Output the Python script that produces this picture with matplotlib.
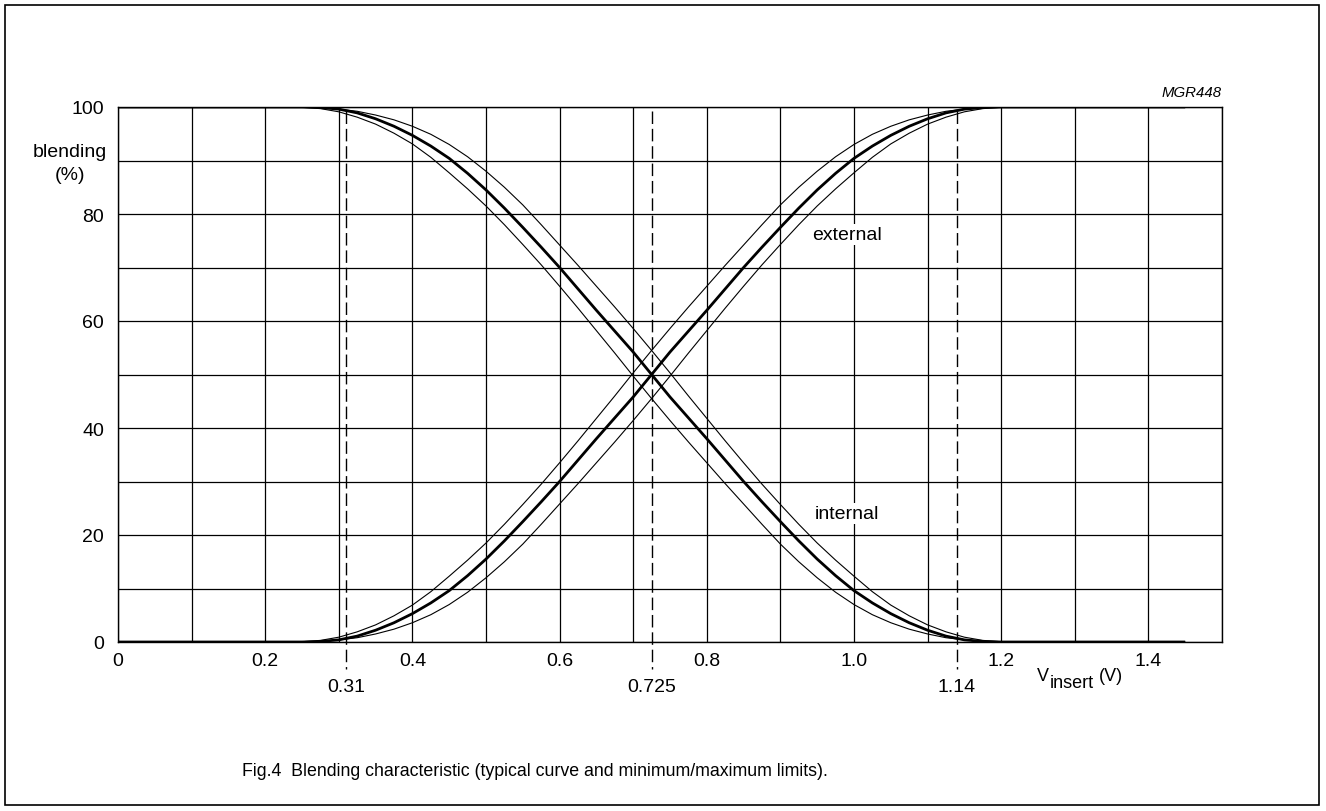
import numpy as np
import matplotlib
matplotlib.use("Agg")
import matplotlib.pyplot as plt
from matplotlib.patches import Rectangle

plt.rcParams['font.family'] = ['Liberation Sans', 'DejaVu Sans']

# V_insert (V): flat start, 0.225 .. 1.225 in 0.025 V steps, flat end
v = [0.0] + [round(0.225 + 0.025 * i, 3) for i in range(41)] + [1.45]

# blending (%) of the "external" curve
ext_typ = [0,
           0, 0, 0.1, 0.4, 1.1, 2.2, 3.6, 5.3, 7.3, 9.6,
           12.4, 15.5, 18.9, 22.5, 26.2, 30, 34, 38, 41.9, 45.8,
           50,
           54.2, 58.1, 62, 66, 70, 73.8, 77.5, 81.1, 84.5, 87.6,
           90.4, 92.7, 94.7, 96.4, 97.8, 98.9, 99.6, 99.9, 100, 100,
           100]
ext_max = [0,
           0, 0.05, 0.3, 0.9, 1.9, 3.2, 4.9, 6.9, 9.4, 12.3,
           15.3, 18.5, 22, 25.7, 29.5, 33.5, 37.6, 41.8, 46, 50.3,
           54.5,
           58.6, 62.6, 66.5, 70.4, 74.2, 78, 81.7, 85, 88, 90.7,
           93, 94.9, 96.4, 97.6, 98.5, 99.2, 99.6, 99.9, 100, 100,
           100]
ext_min = [0,
           0, 0, 0.1, 0.4, 0.8, 1.5, 2.4, 3.6, 5.1, 7,
           9.3, 12, 15, 18.3, 22, 25.8, 29.6, 33.5, 37.4, 41.4,
           45.5,
           49.7, 54, 58.2, 62.4, 66.5, 70.5, 74.3, 78, 81.5, 84.7,
           87.7, 90.6, 93.1, 95.1, 96.8, 98.1, 99.1, 99.7, 99.95, 100,
           100]

# internal curve is the complement of the external one
int_typ = [100 - e for e in ext_typ]
int_max = [100 - e for e in ext_min]
int_min = [100 - e for e in ext_max]

x_major = [0, 0.2, 0.4, 0.6, 0.8, 1.0, 1.2, 1.4]
x_major_lbl = ['0', '0.2', '0.4', '0.6', '0.8', '1.0', '1.2', '1.4']
marks = [0.31, 0.725, 1.14]
marks_lbl = ['0.31', '0.725', '1.14']
y_ticks = [0, 20, 40, 60, 80, 100]

W, H = 1326, 812
fig = plt.figure(figsize=(W / 100, H / 100), dpi=100)
ax = fig.add_axes([118/W, 1 - 643/H, (1222-118)/W, (643-108)/H])

ax.set_xlim(0, 1.5)
ax.set_ylim(0, 100)

FS = 14

# grid every 0.1 V / 10 %
ax.set_xticks(np.arange(0, 1.51, 0.1))
ax.set_xticklabels([])
ax.set_yticks(np.arange(0, 101, 10))
ax.set_yticklabels([str(t) if t in y_ticks else '' for t in range(0, 101, 10)])
ax.tick_params(length=0, labelsize=FS, pad=10)
ax.grid(True, color='black', lw=0.9)
for s in ax.spines.values():
    s.set_linewidth(1.0)

for xt, lb in zip(x_major, x_major_lbl):
    ax.text(xt, -3.5, lb, ha='center', va='center', fontsize=FS, clip_on=False)

fine = dict(color='black', lw=0.8, zorder=4, solid_capstyle='butt')
thick = dict(color='black', lw=2.0, zorder=5, solid_capstyle='butt')
ax.plot(v, ext_max, **fine)
ax.plot(v, ext_min, **fine)
ax.plot(v, int_max, **fine)
ax.plot(v, int_min, **fine)
ax.plot(v, ext_typ, **thick)
ax.plot(v, int_typ, **thick)

for m, lb in zip(marks, marks_lbl):
    ax.plot([m, m], [99.2, -5], color='black', lw=1.0, dashes=(9, 3.5), clip_on=False, zorder=3)
    ax.text(m, -8.4, lb, ha='center', va='center', fontsize=FS, clip_on=False)

bb = dict(facecolor='white', edgecolor='none', pad=1.5)
ax.text(0.99, 76.2, 'external', ha='center', va='center', fontsize=FS, bbox=bb, zorder=6)
ax.text(0.99, 24, 'internal', ha='center', va='center', fontsize=FS, bbox=bb, zorder=6)

# axis title  V_insert (V), pieces placed in pixel positions
fig.text(1037/W, 1 - 681/H, 'V', ha='left', va='baseline', fontsize=13)
fig.text(1050/W, 1 - 688/H, 'insert', ha='left', va='baseline', fontsize=13)
fig.text(1099/W, 1 - 681/H, '(V)', ha='left', va='baseline', fontsize=13)

ax.text(-0.065, 89.5, 'blending\n(%)', ha='center', va='center', fontsize=FS,
        linespacing=1.45, clip_on=False)
ax.text(1.5, 101.5, 'MGR448', ha='right', va='bottom', fontsize=10.8, style='italic',
        clip_on=False)

fig.text(535/W, 1 - 772/H, 'Fig.4  Blending characteristic (typical curve and minimum/maximum limits).',
         ha='center', va='center', fontsize=12.8)

fig.add_artist(Rectangle((5/W, 6/H), 1314/W, 800/H, transform=fig.transFigure,
                         fill=False, lw=1.2, edgecolor='black'))

fig.savefig('out.png', dpi=100)
